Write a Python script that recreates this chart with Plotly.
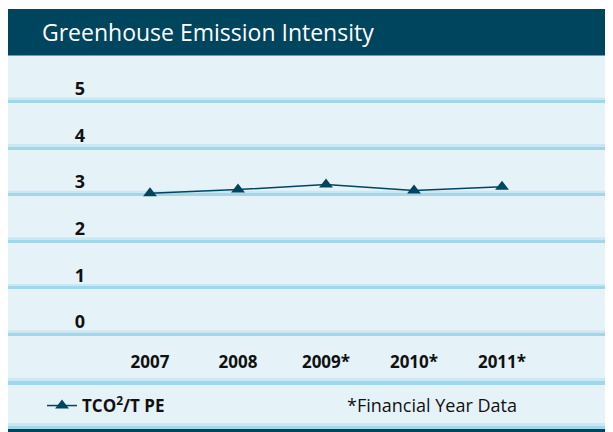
import plotly.graph_objects as go

# ---- data ----
years = ["2007", "2008", "2009*", "2010*", "2011*"]
intensity = [3.03, 3.11, 3.22, 3.09, 3.17]
y_ticks = [0, 1, 2, 3, 4, 5]
y_tick_labels = ["0", "1", "2", "3", "4", "5"]
series_name = "<b>TCO<sup>2</sup>/T PE</b>"
title_text = "Greenhouse Emission Intensity"
note_text = "*Financial Year Data"

DARK = "#00455E"
BG = "#E5F3F9"
GRID = "#A2D7EA"
GRID_LIGHT = "#C9E8F3"

fig = go.Figure()
fig.add_trace(go.Scatter(
    x=years, y=intensity, mode="lines+markers", name=series_name,
    line=dict(color=DARK, width=1.5),
    marker=dict(symbol="triangle-up", size=12, color=DARK),
))

W, H = 613, 432
OFF = 8            # page body margin
mt = 1
SX0, SY0 = OFF, OFF + mt          # plot area top-left on screen
PW, PH = W, H - mt                # plot area size
SYB = SY0 + PH                    # plot bottom on screen
PXU = 46.6                        # px per y unit

def py(sy):  # screen y -> paper y
    return (SYB - sy) / PH

def px(sx):  # screen x -> paper x
    return (sx - SX0) / PW

shapes = [
    dict(type="rect", xref="paper", yref="paper", x0=0, x1=1, y0=py(55.5), y1=1,
         fillcolor=DARK, line=dict(width=0), layer="above"),
    # separator under x labels
    dict(type="rect", xref="paper", yref="paper", x0=0, x1=1, y0=py(381), y1=py(378),
         fillcolor=GRID_LIGHT, line=dict(width=0), layer="below"),
    dict(type="rect", xref="paper", yref="paper", x0=0, x1=1, y0=py(385), y1=py(381),
         fillcolor=GRID, line=dict(width=0), layer="below"),
    # bottom band
    dict(type="rect", xref="paper", yref="paper", x0=0, x1=1, y0=py(426), y1=py(423),
         fillcolor=GRID_LIGHT, line=dict(width=0), layer="below"),
    dict(type="rect", xref="paper", yref="paper", x0=0, x1=1, y0=py(429), y1=py(426),
         fillcolor=GRID, line=dict(width=0), layer="below"),
    dict(type="rect", xref="paper", yref="paper", x0=0, x1=1, y0=py(445), y1=py(429),
         fillcolor=DARK, line=dict(width=0), layer="above"),
]
# soft upper edge of each grid line
for v in y_ticks:
    shapes.append(dict(type="rect", xref="paper", yref="y", x0=0, x1=1,
                       y0=v + 1.0 / PXU, y1=v + 4.0 / PXU,
                       fillcolor=GRID_LIGHT, line=dict(width=0), layer="below"))

fig.update_layout(
    width=W, height=H,
    margin=dict(l=0, r=0, t=mt, b=0, pad=0),
    paper_bgcolor="white", plot_bgcolor=BG,
    font=dict(family="Open Sans, sans-serif", color="#111111"),
    title=dict(text=title_text, x=(42 - OFF) / W, xanchor="left", xref="container",
               y=1 - (33 - OFF) / H, yanchor="middle", yref="container",
               font=dict(size=23, color="white", family="Open Sans, sans-serif")),
    shapes=shapes,
    showlegend=True,
    legend=dict(orientation="h", x=px(42), xanchor="left",
                y=py(406), yanchor="middle", bgcolor="rgba(0,0,0,0)",
                font=dict(size=17, color="#111111")),
    annotations=[dict(text=note_text, xref="paper", yref="paper",
                      x=px(345), y=py(405), xanchor="left", yanchor="middle",
                      showarrow=False, font=dict(size=18, color="#111111"))],
    xaxis=dict(type="category", range=[-(150 - SX0) / 88, -(150 - SX0) / 88 + PW / 88],
               showgrid=False, zeroline=False, showline=False, ticks="",
               anchor="free", position=py(350),
               tickfont=dict(size=17, color="#111111"),
               tickprefix="<b>", ticksuffix="</b>", fixedrange=True),
    yaxis=dict(range=[-(SYB - 334.5) / PXU, 5 + (101.5 - SY0) / PXU],
               tickvals=y_ticks, ticktext=["<b>%s</b>" % t for t in y_tick_labels],
               showgrid=True, gridcolor=GRID, gridwidth=3, zeroline=False,
               showline=False, ticks="",
               anchor="free", position=px(85), ticklabelposition="outside top",
               tickfont=dict(size=18, color="#111111"), fixedrange=True),
)

fig.write_html("out.html")
